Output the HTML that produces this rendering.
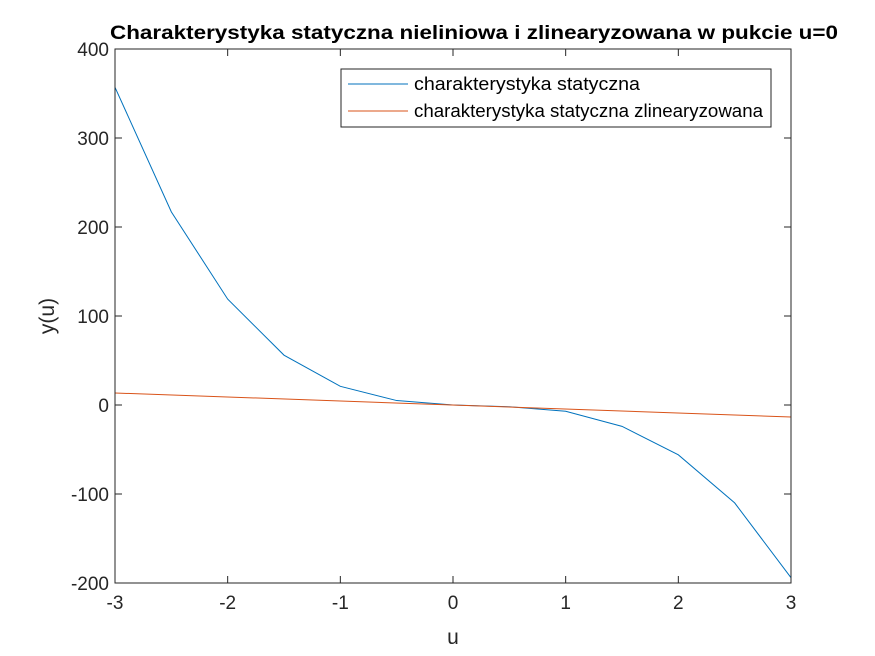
<!DOCTYPE html>
<html><head><meta charset="utf-8"><style>
body{margin:0;background:#fff;}
svg{display:block;font-family:"Liberation Sans",Arial,sans-serif;}
</style></head><body>
<svg id="chart" width="875" height="656" viewBox="0 0 875 656">
<rect width="875" height="656" fill="#fff"/>
<rect x="115" y="49" width="676" height="534" fill="#fff"/>
<g id="series"></g>
<rect x="115" y="49" width="676" height="534" fill="none" stroke="#262626" stroke-width="1"/>
<g id="ticks"></g>
<text x="110" y="39" font-size="19" font-weight="bold" fill="#000" textLength="728" lengthAdjust="spacingAndGlyphs">Charakterystyka statyczna nieliniowa i zlinearyzowana w pukcie u=0</text>
<text x="453" y="644" text-anchor="middle" font-size="21" fill="#262626">u</text>
<text transform="translate(54,316) rotate(-90)" text-anchor="middle" font-size="21" fill="#262626">y(u)</text>
<g>
<rect x="341" y="69" width="430" height="58" fill="#fff" stroke="#262626" stroke-width="1"/>
<line x1="348" y1="84" x2="408" y2="84" stroke="#0072BD" stroke-width="1"/>
<text x="414" y="90" font-size="18" fill="#000" textLength="226" lengthAdjust="spacingAndGlyphs">charakterystyka statyczna</text>
<line x1="348" y1="111" x2="408" y2="111" stroke="#D95319" stroke-width="1"/>
<text x="414" y="117" font-size="18" fill="#000" textLength="349" lengthAdjust="spacingAndGlyphs">charakterystyka statyczna zlinearyzowana</text>
</g>
</svg>
<script>
const uValues=[-3,-2.5,-2,-1.5,-1,-0.5,0,0.5,1,1.5,2,2.5,3];
const staticValues=[357,217,119,56,21,5,0,-2,-7,-24,-56,-110,-194];
const linearU=[-3,3];
const linearValues=[13.5,-13.5];
const xTicks=[-3,-2,-1,0,1,2,3];
const yTicks=[-200,-100,0,100,200,300,400];
const X0=115,X1=791,Y0=583,Y1=49;
function xs(v){return X0+(v+3)/6*(X1-X0);}
function ys(v){return Y0-(v+200)/600*(Y0-Y1);}
const NS="http://www.w3.org/2000/svg";
const series=document.getElementById('series');
function poly(xsArr,ysArr,color,name){
  const p=document.createElementNS(NS,'polyline');
  p.setAttribute('points',xsArr.map((u,i)=>xs(u)+','+ys(ysArr[i])).join(' '));
  p.setAttribute('fill','none');p.setAttribute('stroke',color);p.setAttribute('stroke-width','1');
  
  
  series.appendChild(p);
}
poly(uValues,staticValues,'#0072BD','static-characteristic-line');
poly(linearU,linearValues,'#D95319','linearized-characteristic-line');
const ticks=document.getElementById('ticks');
xTicks.forEach(t=>{
  const x=xs(t);
  [[Y0,Y0-7],[Y1,Y1+7]].forEach(([a,b])=>{
    const l=document.createElementNS(NS,'line');
    l.setAttribute('x1',x);l.setAttribute('x2',x);l.setAttribute('y1',a);l.setAttribute('y2',b);
    l.setAttribute('stroke','#262626');
    
    
    ticks.appendChild(l);
  });
  const tx=document.createElementNS(NS,'text');
  tx.setAttribute('x',x);tx.setAttribute('y',Y0+26);tx.setAttribute('text-anchor','middle');
  tx.setAttribute('font-size','19');tx.setAttribute('fill','#262626');
  tx.textContent=t;
  
  
  ticks.appendChild(tx);
});
yTicks.forEach(t=>{
  const y=ys(t);
  [[X0,X0+7],[X1,X1-7]].forEach(([a,b])=>{
    const l=document.createElementNS(NS,'line');
    l.setAttribute('x1',a);l.setAttribute('x2',b);l.setAttribute('y1',y);l.setAttribute('y2',y);
    l.setAttribute('stroke','#262626');
    
    
    ticks.appendChild(l);
  });
  const tx=document.createElementNS(NS,'text');
  tx.setAttribute('x',X0-6);tx.setAttribute('y',y+7);tx.setAttribute('text-anchor','end');
  tx.setAttribute('font-size','19');tx.setAttribute('fill','#262626');
  tx.textContent=t;
  
  
  ticks.appendChild(tx);
});
</script>
</body></html>
